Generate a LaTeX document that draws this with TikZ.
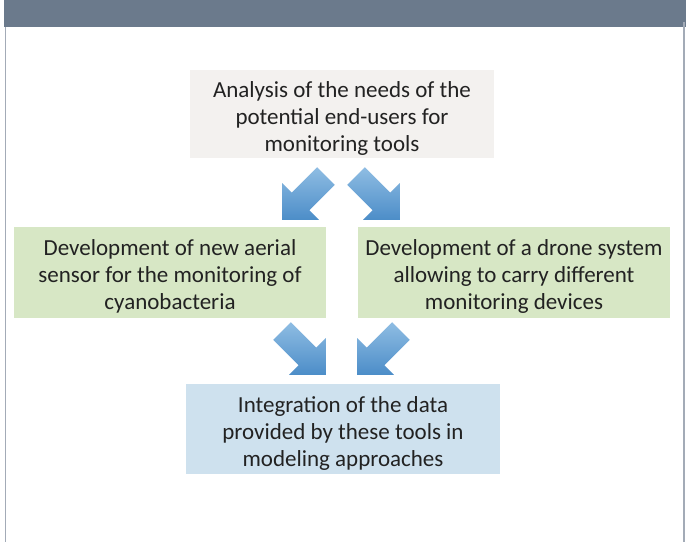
\documentclass[tikz,border=0pt]{standalone}
\usepackage{fontspec}
\setmainfont{Carlito}
\definecolor{header}{HTML}{6B7A8C}
\definecolor{frame}{HTML}{A3ABB7}
\definecolor{topfill}{HTML}{F3F1EF}
\definecolor{greenfill}{HTML}{D7E7C5}
\definecolor{bluefill}{HTML}{CEE1EE}
\definecolor{arrowlight}{HTML}{8FBDE3}
\definecolor{arrowdark}{HTML}{4C8DC8}
\definecolor{txt}{HTML}{222222}
\newcommand{\toppad}{\rule{0pt}{25pt}}
\begin{document}
\begin{tikzpicture}[x=1pt,y=-1pt,
  box/.style={draw=none, align=center, inner sep=0pt, text=txt,
    font=\fontsize{23}{27.3}\selectfont},
  blockarrow/.style={shading=axis, top color=arrowlight, bottom color=arrowdark, draw=none}]
\useasboundingbox (0,0) rectangle (686,542);
\fill[white] (0,0) rectangle (686,542);
\fill[header] (4,0) rectangle (686,27);
\draw[frame, line width=1.2pt] (5.5,27) -- (5.5,542);
\draw[frame, line width=1.2pt] (684,22) -- (684,542);

\node[box, fill=topfill, minimum width=304pt, minimum height=88pt] (needs) at (342,114)
  {\toppad Analysis of the needs of the\\potential end-users for\\monitoring tools};
\node[box, fill=greenfill, minimum width=312pt, minimum height=91pt] (sensor) at (170,272)
  {\toppad Development of new aerial\\sensor for the monitoring of\\cyanobacteria};
\node[box, fill=greenfill, minimum width=312pt, minimum height=91pt] (drone) at (514,272)
  {\toppad Development of a drone system\\allowing to carry different\\monitoring devices};
\node[box, fill=bluefill, minimum width=314pt, minimum height=90pt] (model) at (343,429)
  {\toppad Integration of the data\\provided by these tools in\\modeling approaches};

\coordinate (a1) at (326,176);
\coordinate (a2) at (356,176);
\coordinate (a3) at (282,331);
\coordinate (a4) at (401,331);

\foreach \c/\ang in {a1/-135, a2/-45, a3/-45, a4/-135} {
  \begin{scope}[shift={(\c)}, rotate=\ang]
    \path[blockarrow] (0,-12.5) -- (36,-12.5) -- (36,-26) -- (62,0) -- (36,26) -- (36,12.5) -- (0,12.5) -- cycle;
  \end{scope}
}
\end{tikzpicture}
\end{document}
